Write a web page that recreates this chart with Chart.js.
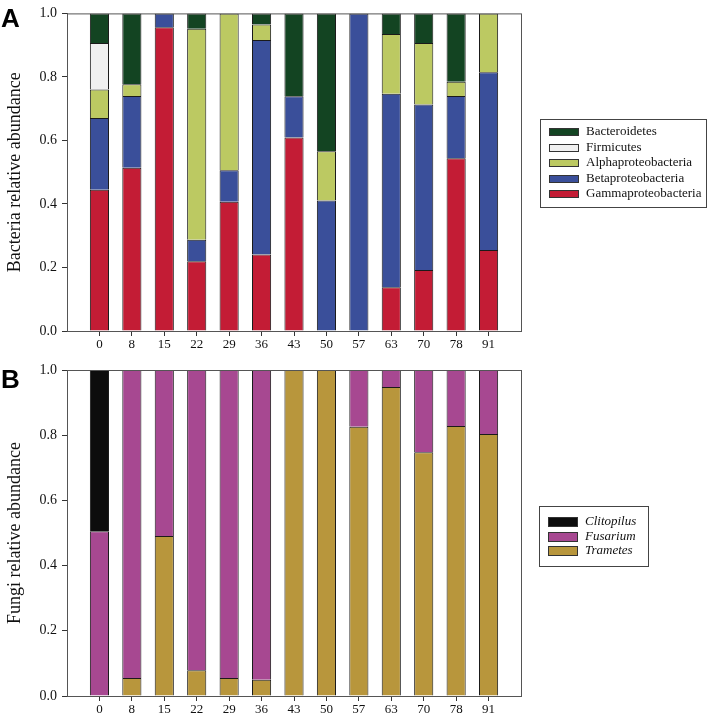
<!DOCTYPE html>
<html>
<head>
<meta charset="utf-8">
<script src="https://cdn.jsdelivr.net/npm/chart.js@4.4.1/dist/chart.umd.min.js"></script>
<style>
  body { margin: 0; background: #fff; }
  canvas { display: block; }
</style>
</head>
<body>
<canvas id="bacteriaChart" width="709" height="355"></canvas>
<canvas id="fungiChart" width="709" height="359"></canvas>
<script>
// days of sampling (x axis)
const days = ['0', '8', '15', '22', '29', '36', '43', '50', '57', '63', '70', '78', '91'];
const yTicks = [0, 0.2, 0.4, 0.6, 0.8, 1.0];

// bacteria relative abundance
const gammaproteobacteria = [0.445, 0.514, 0.956, 0.220, 0.407, 0.241, 0.609, 0, 0, 0.138, 0.192, 0.544, 0.255];
const betaproteobacteria  = [0.226, 0.226, 0.044, 0.067, 0.099, 0.675, 0.130, 0.411, 1.0, 0.609, 0.521, 0.196, 0.560];
const alphaproteobacteria = [0.089, 0.037, 0, 0.665, 0.494, 0.049, 0, 0.155, 0, 0.188, 0.194, 0.045, 0.185];
const firmicutes          = [0.147, 0, 0, 0, 0, 0, 0, 0, 0, 0, 0, 0, 0];
const bacteroidetes       = [0.093, 0.223, 0, 0.048, 0, 0.035, 0.261, 0.434, 0, 0.065, 0.093, 0.215, 0];

// fungi relative abundance
const trametes   = [0, 0.055, 0.491, 0.079, 0.055, 0.050, 1.0, 1.0, 0.826, 0.948, 0.748, 0.828, 0.804];
const fusarium   = [0.505, 0.945, 0.509, 0.921, 0.945, 0.950, 0, 0, 0.174, 0.052, 0.252, 0.172, 0.196];
const clitopilus = [0.495, 0, 0, 0, 0, 0, 0, 0, 0, 0, 0, 0, 0];

const FONT = "'Liberation Serif', 'DejaVu Serif', serif";

// empty slot at each end of the axis, zero segments are left out
const paddedLabels = [''].concat(days, ['']);
function pad(arr) { return [null].concat(arr.map(v => v === 0 ? null : v), [null]); }

function makeSet(label, data, color) {
  return {
    label: label,
    data: pad(data),
    backgroundColor: color,
    borderColor: '#1a1a1a',
    borderWidth: 1,
    borderSkipped: 'start',
    barPercentage: 0.59,
    categoryPercentage: 1.0
  };
}

// frame, panel letter and boxed legend
const panelPlugin = {
  id: 'panelDeco',
  afterDraw(chart, args, opts) {
    const ctx = chart.ctx;
    const a = chart.chartArea;
    ctx.save();
    ctx.strokeStyle = '#555';
    ctx.lineWidth = 1;
    ctx.strokeRect(a.left + 0.5, a.top + 0.5, a.right - a.left, a.bottom - a.top);

    ctx.fillStyle = '#000';
    ctx.font = "bold 26px 'Liberation Sans', Arial, sans-serif";
    ctx.textBaseline = 'alphabetic';
    ctx.textAlign = 'left';
    ctx.fillText(opts.letter, 1, opts.letterY);

    const b = opts.box;
    ctx.strokeStyle = '#444';
    ctx.strokeRect(b.x + 0.5, b.y + 0.5, b.w, b.h);
    const sets = chart.data.datasets.slice().reverse();
    const sh = opts.swatchH;
    ctx.font = (opts.italic ? 'italic ' : '') + '13px ' + FONT;
    ctx.textBaseline = 'middle';
    sets.forEach((ds, i) => {
      const y = Math.round(opts.firstRow + i * opts.rowGap);
      ctx.fillStyle = ds.backgroundColor;
      ctx.fillRect(b.x + 9, y - sh / 2, 30, sh);
      ctx.strokeStyle = '#333';
      ctx.strokeRect(b.x + 9.5, y - sh / 2 + 0.5, 29, sh - 1);
      ctx.fillStyle = '#111';
      ctx.fillText(ds.label, b.x + 46, y);
    });
    ctx.restore();
  }
};

function makeOptions(title, topPad, xHeight, deco) {
  return {
    responsive: false,
    animation: false,
    layout: { padding: { left: 0, top: topPad, right: 188, bottom: 0 } },
    plugins: {
      legend: { display: false },
      tooltip: { enabled: false },
      panelDeco: deco
    },
    scales: {
      x: {
        stacked: true,
        offset: false,
        grid: {
          offset: false,
          drawOnChartArea: false,
          drawTicks: true,
          tickLength: 5,
          color: c => (c.index === 0 || c.index === paddedLabels.length - 1) ? 'rgba(0,0,0,0)' : '#333'
        },
        border: { display: true, color: '#555' },
        ticks: {
          color: '#111',
          font: { family: FONT, size: 13 },
          padding: 1,
          maxRotation: 0,
          autoSkip: false
        },
        afterFit: s => { s.height = xHeight; }
      },
      y: {
        stacked: true,
        min: 0,
        max: 1,
        afterBuildTicks: s => { s.ticks = yTicks.map(v => ({ value: v })); },
        grid: { drawOnChartArea: false, drawTicks: true, tickLength: 5, color: '#333' },
        border: { display: true, color: '#555' },
        ticks: {
          color: '#111',
          font: { family: FONT, size: 14 },
          padding: 5,
          callback: v => v.toFixed(1)
        },
        title: {
          display: true,
          text: title,
          color: '#111',
          font: { family: FONT, size: 18 },
          padding: { top: 4, bottom: 0 }
        },
        afterFit: s => { s.width = 67; }
      }
    }
  };
}

const bacteriaCtx = document.getElementById('bacteriaChart').getContext('2d');
new Chart(bacteriaCtx, {
  type: 'bar',
  data: {
    labels: paddedLabels,
    datasets: [
      makeSet('Gammaproteobacteria', gammaproteobacteria, '#c31c35'),
      makeSet('Betaproteobacteria', betaproteobacteria, '#3a4f9a'),
      makeSet('Alphaproteobacteria', alphaproteobacteria, '#bcc962'),
      makeSet('Firmicutes', firmicutes, '#f0f0f0'),
      makeSet('Bacteroidetes', bacteroidetes, '#134422')
    ]
  },
  options: makeOptions('Bacteria relative abundance', 5, 24, {
    letter: 'A', letterY: 27,
    box: { x: 540, y: 119, w: 166, h: 88 },
    firstRow: 132, rowGap: 15.5, italic: false, swatchH: 8
  }),
  plugins: [panelPlugin]
});

const fungiCtx = document.getElementById('fungiChart').getContext('2d');
new Chart(fungiCtx, {
  type: 'bar',
  data: {
    labels: paddedLabels,
    datasets: [
      makeSet('Trametes', trametes, '#b8963c'),
      makeSet('Fusarium', fusarium, '#a74891'),
      makeSet('Clitopilus', clitopilus, '#0d0d0d')
    ]
  },
  options: makeOptions('Fungi relative abundance', 15, 18, {
    letter: 'B', letterY: 33,
    box: { x: 539, y: 151, w: 109, h: 60 },
    firstRow: 167, rowGap: 14.5, italic: true, swatchH: 10
  }),
  plugins: [panelPlugin]
});
</script>
</body>
</html>
